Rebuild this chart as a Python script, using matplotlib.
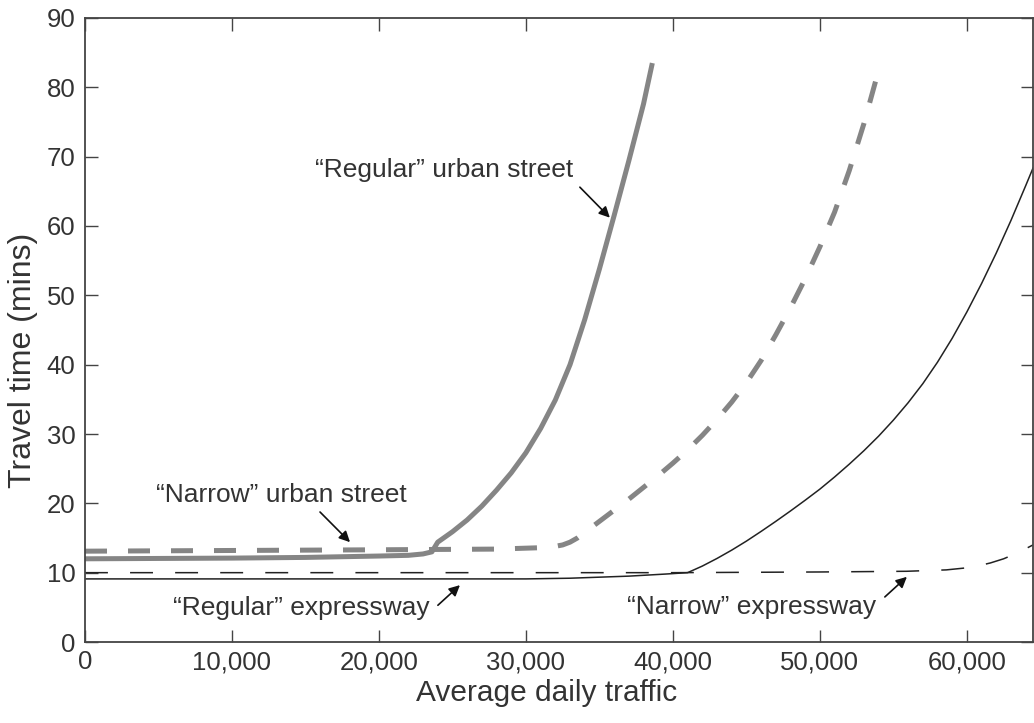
import matplotlib
matplotlib.use("agg")

import matplotlib.pyplot as plt

plt.rcParams["font.family"] = ["Liberation Sans", "DejaVu Sans"]

# Travel time curves (average daily traffic, minutes)
reg_street_x = [0, 5000, 10000, 15000, 20000, 22000, 23000, 23600, 24000, 25000,
                26000, 27000, 28000, 29000, 30000, 31000, 32000, 33000, 34000,
                35000, 36000, 37000, 38000, 38600]
reg_street_y = [12.0, 12.05, 12.1, 12.2, 12.4, 12.5, 12.7, 13.0, 14.4, 15.9,
                17.6, 19.6, 21.9, 24.4, 27.3, 30.8, 34.9, 40.0, 46.5,
                53.8, 61.5, 69.4, 77.6, 83.5]

nar_street_x = [0, 10000, 20000, 28000, 31000, 32000, 32500, 33000, 33500, 34000,
                35000, 36000, 37000, 38000, 39000, 40000, 41000, 42000, 43000,
                44000, 45000, 46000, 47000, 48000, 49000, 50000, 51000, 52000,
                53000, 54000, 54080]
nar_street_y = [13.1, 13.2, 13.3, 13.4, 13.6, 13.8, 14.0, 14.4, 15.0, 15.8,
                17.4, 19.0, 20.6, 22.3, 24.0, 25.8, 27.7, 29.8, 32.1,
                34.6, 37.4, 40.6, 44.3, 48.2, 52.4, 57.0, 62.0, 68.0,
                74.8, 82.5, 83.2]

reg_xway_x = [0, 10000, 20000, 30000, 33000, 37000, 39500, 41000, 42000, 43000,
              44000, 45000, 46000, 47000, 48000, 49000, 50000, 51000, 52000,
              53000, 54000, 55000, 56000, 57000, 58000, 59000, 60000, 61000,
              62000, 63000, 64000, 64500]
reg_xway_y = [9.1, 9.1, 9.1, 9.1, 9.2, 9.5, 9.8, 10.0, 10.95, 12.05,
              13.25, 14.55, 15.95, 17.4, 18.9, 20.45, 22.05, 23.8, 25.65,
              27.6, 29.7, 32.0, 34.5, 37.25, 40.35, 43.8, 47.6, 51.7,
              56.1, 60.8, 65.8, 68.35]

nar_xway_x = [0, 20000, 40000, 50000, 55900, 58600, 60000, 61000, 61600, 62500,
              63500, 64500]
nar_xway_y = [10.0, 10.0, 10.0, 10.1, 10.2, 10.4, 10.7, 11.1, 11.4, 12.0,
              12.9, 14.0]

x_ticks = [0, 10000, 20000, 30000, 40000, 50000, 60000]
x_tick_labels = ["0", "10,000", "20,000", "30,000", "40,000", "50,000", "60,000"]
y_ticks = list(range(0, 91, 10))

text_color = "#333333"
gray = "#858585"

fig = plt.figure(figsize=(10.34, 7.23), dpi=100)
ax = fig.add_axes([85 / 1034, 81 / 723, 948 / 1034, 624 / 723])

ax.plot(reg_street_x, reg_street_y, color=gray, lw=3.6, solid_capstyle="butt",
        solid_joinstyle="round")
ax.plot(nar_street_x, nar_street_y, color=gray, lw=3.6, dashes=(4.4, 4.2),
        dash_capstyle="butt", dash_joinstyle="round")
ax.plot(reg_xway_x, reg_xway_y, color="#222222", lw=1.1)
ax.plot(nar_xway_x, nar_xway_y, color="#222222", lw=1.1, dashes=(15, 14.5),
        dash_capstyle="butt")

ax.set_xlim(0, 64500)
ax.set_ylim(0, 90)
ax.set_xticks(x_ticks)
ax.set_xticklabels(x_tick_labels)
ax.set_yticks(y_ticks)
ax.tick_params(direction="in", length=9, width=1, color="#444444",
               top=True, right=True, labelsize=18.5, labelcolor=text_color)
ax.tick_params(axis="x", pad=6)
ax.tick_params(axis="y", pad=7)
for spine in ax.spines.values():
    spine.set_linewidth(1.3)
    spine.set_color("#444444")

ax.set_xlabel("Average daily traffic", fontsize=21.5, color=text_color)
ax.set_ylabel("Travel time (mins)", fontsize=23, color=text_color)
ax.xaxis.set_label_coords(0.487, -0.060)
ax.yaxis.set_label_coords(-0.050, 0.452)

# Curve labels with pointer arrows
arrow = dict(arrowstyle="-|>", color="#111111", lw=1.2,
             mutation_scale=16, shrinkA=0, shrinkB=0)
label_kw = dict(fontsize=19, color=text_color, ha="center", va="center")

ax.text(24420, 68.1, "\u201cRegular\u201d urban street", **label_kw)
ax.annotate("", xy=(35710, 61.2), xytext=(33670, 65.6), arrowprops=arrow)

ax.text(13330, 21.2, "\u201cNarrow\u201d urban street", **label_kw)
ax.annotate("", xy=(18030, 14.4), xytext=(15990, 18.75), arrowprops=arrow)

ax.text(14730, 4.9, "\u201cRegular\u201d expressway", **label_kw)
ax.annotate("", xy=(25510, 8.2), xytext=(24010, 5.3), arrowprops=arrow)

ax.text(45370, 5.05, "\u201cNarrow\u201d expressway", **label_kw)
ax.annotate("", xy=(55920, 9.4), xytext=(54420, 6.5), arrowprops=arrow)

fig.savefig("out.png", dpi=100)
